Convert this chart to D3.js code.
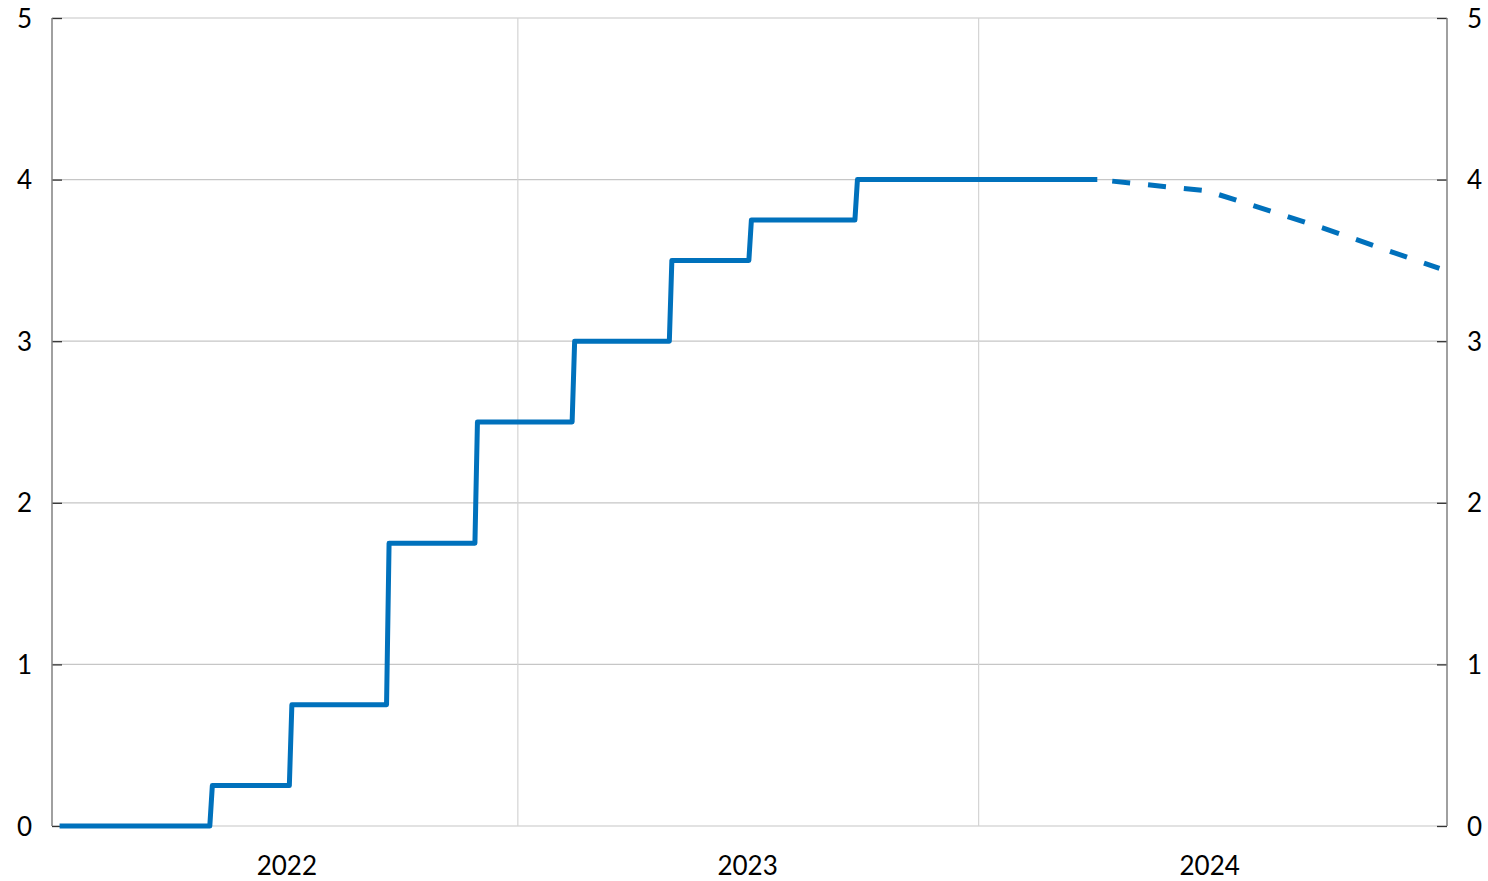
<!DOCTYPE html>
<html>
<head>
<meta charset="utf-8">
<script src="https://cdn.jsdelivr.net/npm/d3@7"></script>
<style>
  html, body { margin: 0; padding: 0; background: #fff; }
  svg text { font-family: Lato, "Open Sans", sans-serif; font-size: 26px; fill: #000; }
</style>
</head>
<body>
<svg id="chart" width="1488" height="881"></svg>
<script>
// ---- data ----
const startDate = "2022-01-03";
const startRate = 0;
const changeDates = ["2022-05-04", "2022-07-06", "2022-09-21", "2022-11-30",
                     "2023-02-15", "2023-05-03", "2023-07-05", "2023-09-27"];
const changeRates = [0.25, 0.75, 1.75, 2.5, 3.0, 3.5, 3.75, 4.0];
const lastOutcomeDate = "2024-04-04";
const forecastDates = ["2024-04-04", "2024-06-30", "2024-09-30", "2024-12-31"];
const forecastRates = [4.0, 3.93, 3.70, 3.45];
const yTicks = [0, 1, 2, 3, 4, 5];
const yearLabels = ["2022", "2023", "2024"];
const yearGridDates = ["2023-01-01", "2024-01-01"];

// ---- setup ----
const parse = d3.timeParse("%Y-%m-%d");
const svg = d3.select("#chart");
const mLeft = 52, mRight = 1447, mTop = 18, mBottom = 826;

const x = d3.scaleTime()
  .domain([parse("2021-12-28"), parse("2025-01-06")])
  .range([mLeft, mRight]);
const y = d3.scaleLinear().domain([0, 5]).range([mBottom, mTop]);

// outcome series (step with a point two days before each change)
const outcome = [{ d: parse(startDate), v: startRate }];
let prev = startRate;
changeDates.forEach((ds, i) => {
  const d = parse(ds);
  outcome.push({ d: d3.timeDay.offset(d, -2), v: prev });
  outcome.push({ d: d, v: changeRates[i] });
  prev = changeRates[i];
});
outcome.push({ d: parse(lastOutcomeDate), v: prev });

const forecast = forecastDates.map((ds, i) => ({ d: parse(ds), v: forecastRates[i] }));

// ---- gridlines ----
svg.append("g").selectAll("line")
  .data(yTicks).join("line")
  .attr("x1", mLeft).attr("x2", mRight)
  .attr("y1", d => y(d)).attr("y2", d => y(d))
  .attr("stroke", "#c6c6c6").attr("stroke-width", 1.2);

svg.append("g").selectAll("line")
  .data(yearGridDates).join("line")
  .attr("x1", d => x(parse(d))).attr("x2", d => x(parse(d)))
  .attr("y1", mTop).attr("y2", mBottom)
  .attr("stroke", "#d4d4d4").attr("stroke-width", 1.2);

// ---- axes ----
const yLeft = d3.axisLeft(y).tickValues(yTicks).tickFormat(d3.format("d")).tickSize(-10).tickPadding(20);
const gL = svg.append("g").attr("transform", `translate(${mLeft},0)`).call(yLeft);
const yRight = d3.axisRight(y).tickValues(yTicks).tickFormat(d3.format("d")).tickSize(-10).tickPadding(20);
const gR = svg.append("g").attr("transform", `translate(${mRight},0)`).call(yRight);

[gL, gR].forEach(g => {
  g.select(".domain").remove();
  g.selectAll(".tick line").attr("stroke", "#333").attr("stroke-width", 1.3);
  g.selectAll(".tick text").attr("font-family", "Lato, 'Open Sans', sans-serif")
    .attr("font-size", 26).attr("fill", "#000").attr("dy", "0.35em");
});
gL.selectAll(".tick text").attr("x", -20);
gR.selectAll(".tick text").attr("x", 20);

svg.append("line").attr("x1", mLeft).attr("x2", mLeft).attr("y1", mTop).attr("y2", mBottom)
  .attr("stroke", "#808080").attr("stroke-width", 1.5);
svg.append("line").attr("x1", mRight).attr("x2", mRight).attr("y1", mTop).attr("y2", mBottom)
  .attr("stroke", "#808080").attr("stroke-width", 1.5);

// year labels at mid-year
svg.append("g").selectAll("text")
  .data(yearLabels).join("text")
  .attr("x", d => x(parse(d + "-07-02")))
  .attr("y", 875)
  .attr("text-anchor", "middle")
  .text(d => d);

// ---- lines ----
const line = d3.line().x(d => x(d.d)).y(d => y(d.v));

svg.append("path").datum(forecast)
  .attr("d", line)
  .attr("fill", "none")
  .attr("stroke", "#0071bc")
  .attr("stroke-width", 5)
  .attr("stroke-dasharray", "18,18")
  .attr("stroke-dashoffset", 21);

svg.append("path").datum(outcome)
  .attr("d", line)
  .attr("fill", "none")
  .attr("stroke", "#0071bc")
  .attr("stroke-width", 5)
  .attr("stroke-linejoin", "round")
  .attr("stroke-linecap", "butt");
</script>
</body>
</html>
